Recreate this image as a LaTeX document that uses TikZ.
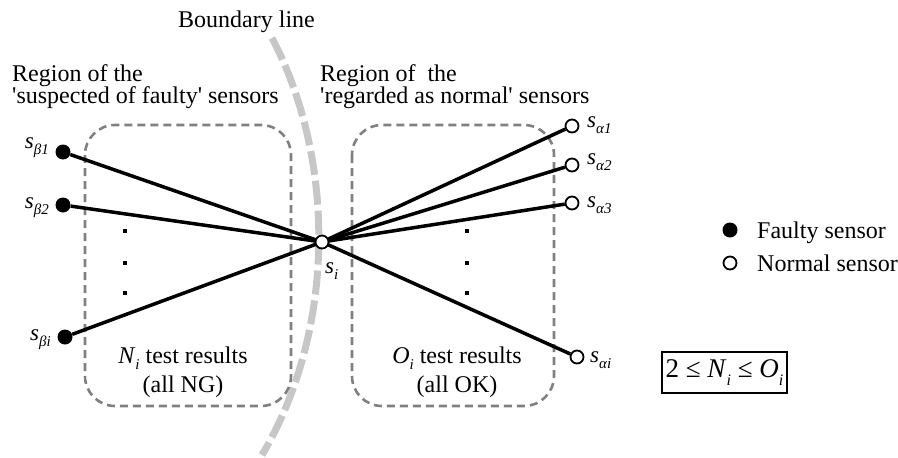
\documentclass[tikz,border=0pt]{standalone}
\usepackage{fontspec}
\setmainfont{Liberation Serif}[Ligatures=TeXOff]
\newcommand{\lowsub}[1]{\raisebox{-0.28em}{\fontsize{15}{15}\selectfont\itshape #1}}
\newcommand{\sens}[1]{\textit{s}\lowsub{#1}}
\begin{document}
\begin{tikzpicture}[x=1pt,y=-1pt,
  txt/.style={font=\fontsize{24}{24}\selectfont, inner sep=0pt},
  lab/.style={font=\fontsize{23}{23}\selectfont, inner sep=0pt},
  fdot/.style={circle, fill=black, inner sep=0pt, minimum size=15pt},
  odot/.style={circle, draw=black, fill=white, line width=1.8pt, inner sep=0pt, minimum size=13pt},
  conn/.style={line width=3.5pt, black},
  regionbox/.style={draw=black!50, line width=2.6pt, dash pattern=on 8pt off 5pt, rounded corners=30pt},
  bnd/.style={draw=black!22, line width=7pt, dash pattern=on 24pt off 6pt},
  ellip/.style={fill=black, inner sep=0pt, minimum size=3.2pt}]
\useasboundingbox (0,0) rectangle (898,458);

% boundary between the two regions
\draw[bnd] (272,38) .. controls (336,160) and (336,330) .. (262,455);

% regions of test results
\draw[regionbox] (85,125) rectangle (291,406);
\draw[regionbox] (352,125) rectangle (554,406);

% headings
\node[txt, anchor=base west] (bl) at (178,27) {Boundary line};
\node[txt, anchor=base west] (lh1) at (12,81) {Region of the};
\node[txt, anchor=base west] (lh2) at (12,103) {'suspected of faulty' sensors};
\node[txt, anchor=base west] (rh1) at (320,81) {Region of \ the};
\node[txt, anchor=base west] (rh2) at (320,103) {'regarded as normal' sensors};

% sensors
\node[fdot] (b1) at (63,152) {};
\node[fdot] (b2) at (63,205) {};
\node[fdot] (bi) at (65,337) {};
\node[odot] (a1) at (572,126) {};
\node[odot] (a2) at (572,165) {};
\node[odot] (a3) at (572,203) {};
\node[odot] (ai) at (577,357) {};

% test connections
\coordinate (c) at (322,242);
\draw[conn] (b1) -- (c);
\draw[conn] (b2) -- (c);
\draw[conn] (bi) -- (c);
\draw[conn] (c) -- (a1);
\draw[conn] (c) -- (a2);
\draw[conn] (c) -- (a3);
\draw[conn] (c) -- (ai);
\node[odot] (si) at (c) {};

% sensor labels
\node[lab, anchor=base east] (lb1) at (49,148) {\sens{β1}};
\node[lab, anchor=base east] (lb2) at (49,208) {\sens{β2}};
\node[lab, anchor=base east] (lbi) at (51,340) {\sens{βi}};
\node[lab, anchor=base west] (la1) at (587,127) {\sens{α1}};
\node[lab, anchor=base west] (la2) at (587,164) {\sens{α2}};
\node[lab, anchor=base west] (la3) at (587,207) {\sens{α3}};
\node[lab, anchor=base west] (lai) at (590,362) {\sens{αi}};
\node[lab, anchor=base west] (lsi) at (325,273) {\sens{i}};

% vertical ellipses
\foreach \yy [count=\k] in {231,263,293} {
  \node[ellip] (el\k) at (125,\yy) {};
  \node[ellip] (er\k) at (467,\yy) {};
}

% region captions
\node[txt, anchor=base] (nt) at (183,363) {\textit{N}\lowsub{i} test results};
\node[txt, anchor=base] (ng) at (183,392) {(all NG)};
\node[txt, anchor=base] (ot) at (457,363) {\textit{O}\lowsub{i} test results};
\node[txt, anchor=base] (ok) at (457,392) {(all OK)};

% legend
\node[fdot] (lgf) at (730,230) {};
\node[odot] (lgn) at (730,263) {};
\node[txt, anchor=base west] (lgft) at (757,238) {Faulty sensor};
\node[txt, anchor=base west] (lgnt) at (757,271) {Normal sensor};

% condition
\node[draw=black, line width=1.3pt, minimum width=125pt, minimum height=41pt, inner sep=0pt,
      font=\fontsize{27}{27}\selectfont] (cond) at (724.5,372.5)
  {2 ≤ \textit{N}\raisebox{-0.28em}{\fontsize{16}{16}\selectfont\itshape i} ≤ \textit{O}\raisebox{-0.28em}{\fontsize{16}{16}\selectfont\itshape i}};
\end{tikzpicture}
\end{document}
